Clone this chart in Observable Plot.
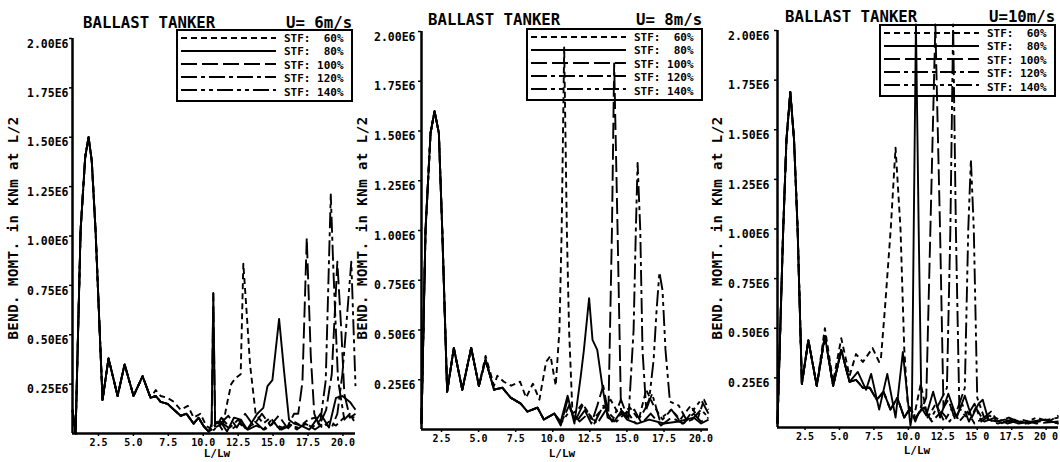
<!DOCTYPE html>
<html>
<head>
<meta charset="utf-8">
<script src="https://cdn.jsdelivr.net/npm/d3@7"></script>
<script src="https://cdn.jsdelivr.net/npm/@observablehq/plot@0.6"></script>
<style>
  body { margin: 0; background: #fff; }
  #root { position: relative; width: 1060px; height: 462px; overflow: hidden; background: #fff;
          font-family: "DejaVu Sans Mono", monospace; font-weight: bold; color: #000; }
  .panel { position: absolute; top: 0; }
  .panel svg { overflow: visible; }
  .ttl { position: absolute; font-size: 15.7px; line-height: 12px; white-space: pre; }
  .legend { position: absolute; width: 177px; height: 73px; border: 2px solid #000; box-sizing: border-box; }
  .leglab { position: absolute; left: 106px; font-size: 11px; line-height: 11px; white-space: pre; }
  .ytitle { position: absolute; font-size: 14px; letter-spacing: 0.5px; white-space: nowrap; transform: translate(-50%, -50%) rotate(-90deg); }
  .xtitle { position: absolute; font-size: 11px; white-space: nowrap; transform: translate(-50%, -50%); }
</style>
</head>
<body>
<div id="root"></div>
<script>
// ---------------- shared labels / ticks ----------------
const stfLabels = ["STF:  60%", "STF:  80%", "STF: 100%", "STF: 120%", "STF: 140%"];
const yTickValues = [0.25, 0.5, 0.75, 1.0, 1.25, 1.5, 1.75, 2.0];
const yTickLabels = ["0.25E6", "0.50E6", "0.75E6", "1.00E6", "1.25E6", "1.50E6", "1.75E6", "2.00E6"];
const xTickValues = [2.5, 5, 7.5, 10, 12.5, 15, 17.5, 20];
const xTickLabelsA = ["2.5", "5.0", "7.5", "10.0", "12.5", "15.0", "17.5", "20.0"];
const xTickLabelsC = ["2.5", "5.0", "7.5", "10.0", "12.5", "15 0", "17.5", "20 0"];
const speedLabels = ["U= 6m/s", "U= 8m/s", "U=10m/s"];
const titleText = "BALLAST TANKER";
const yTitle = "BEND. MOMT. in KNm at L/2";
const xTitle = "L/Lw";

// ---------------- Panel 1: U = 6 m/s  (x = L/Lw, y in 1E6 kNm) ----------------
const p1Base = [[0.64,0.12],[0.86,0.0],[1.22,1.03],[1.55,1.40],[1.79,1.50],[2.02,1.38],[2.29,1.03],[2.79,0.17],[3.22,0.38],[3.87,0.19],[4.37,0.35],[5.01,0.19],[5.66,0.29],[6.23,0.18]];
const p1Mid = [[6.6,0.19],[6.95,0.16],[7.45,0.15],[7.9,0.12],[8.38,0.09],[8.8,0.10],[9.31,0.05],[9.67,0.08],[10.0,0.04],[10.39,0.01]];
const p1Stf60 = [[6.6,0.22],[6.95,0.19],[7.45,0.18],[7.9,0.16],[8.38,0.12],[8.9,0.14],[9.31,0.08],[9.8,0.10],[10.2,0.04],[10.6,0.02],[11.0,0.06],[11.35,0.02],[11.7,0.15],[12.0,0.25],[12.3,0.28],[12.68,0.30],[12.87,0.86],[13.1,0.62],[13.35,0.35],[13.75,0.10],[14.3,0.05],[14.8,0.08],[15.3,0.04],[16.0,0.02],[16.5,0.06],[17.0,0.04],[17.5,0.07],[18.0,0.08],[18.5,0.03],[19.0,0.06],[19.5,0.04],[20.2,0.09],[20.9,0.08]];
const p1Stf80 = [[10.6,0.05],[10.72,0.71],[10.85,0.05],[11.25,0.06],[11.7,0.01],[12.2,0.08],[12.7,0.07],[13.15,0.02],[13.87,0.10],[14.3,0.13],[14.6,0.24],[14.95,0.27],[15.43,0.58],[15.78,0.32],[16.14,0.07],[16.5,0.05],[17.0,0.04],[17.6,0.02],[18.0,0.06],[18.4,0.10],[19.0,0.03],[19.5,0.18],[19.96,0.19],[20.5,0.16],[20.9,0.12]];
const p1Stf100 = [[10.6,0.03],[10.72,0.71],[10.85,0.03],[11.2,0.05],[11.8,0.09],[12.4,0.03],[13.0,0.10],[13.6,0.04],[14.2,0.10],[14.8,0.04],[15.4,0.09],[16.0,0.03],[16.5,0.10],[16.8,0.10],[17.1,0.26],[17.41,0.99],[17.7,0.39],[17.95,0.10],[18.3,0.04],[18.8,0.12],[19.2,0.30],[19.6,0.87],[19.9,0.50],[20.1,0.20],[20.5,0.08],[20.9,0.10]];
const p1Stf120 = [[10.8,0.02],[11.3,0.08],[11.9,0.03],[12.5,0.07],[13.1,0.02],[13.7,0.06],[14.3,0.02],[14.9,0.07],[15.5,0.02],[16.1,0.05],[16.7,0.02],[17.3,0.05],[17.8,0.03],[18.4,0.07],[18.77,0.27],[19.13,1.21],[19.3,0.86],[19.45,0.60],[19.65,0.27],[20.1,0.07],[20.5,0.10],[20.9,0.05]];
const p1Stf140 = [[10.8,0.03],[11.4,0.05],[12.0,0.02],[12.6,0.05],[13.2,0.02],[13.8,0.04],[14.4,0.02],[15.0,0.05],[15.6,0.02],[16.2,0.04],[16.8,0.03],[17.4,0.05],[18.0,0.02],[18.6,0.05],[19.2,0.03],[19.6,0.10],[19.96,0.30],[20.3,0.60],[20.6,0.87],[20.9,0.24]];

// ---------------- Panel 2: U = 8 m/s ----------------
const p2Base = [[1.15,0.03],[1.42,1.0],[1.76,1.49],[2.03,1.60],[2.32,1.49],[2.55,1.0],[2.88,0.19],[3.33,0.41],[3.9,0.20],[4.5,0.41],[5.02,0.22]];
const p2Mid = [[5.47,0.35],[6.04,0.20],[6.6,0.21],[7.16,0.16],[7.84,0.13],[8.29,0.09],[8.97,0.11],[9.4,0.05],[10.1,0.08]];
const p2Stf60 = [[5.47,0.37],[6.04,0.22],[6.26,0.27],[6.7,0.24],[7.2,0.22],[7.8,0.24],[8.2,0.16],[8.66,0.23],[9.1,0.15],[9.55,0.34],[9.85,0.37],[10.2,0.22],[10.45,0.50],[10.6,1.0],[10.77,1.92],[10.95,1.0],[11.1,0.50],[11.33,0.08],[11.7,0.10],[12.0,0.13],[12.7,0.05],[13.3,0.10],[13.9,0.15],[14.5,0.07],[15.2,0.11],[15.8,0.05],[16.3,0.20],[16.8,0.12],[17.4,0.05],[18.0,0.10],[18.6,0.05],[19.3,0.12],[19.8,0.06],[20.2,0.15],[20.5,0.10]];
const p2Stf80 = [[10.54,0.04],[11.0,0.17],[11.46,0.03],[11.89,0.27],[12.1,0.40],[12.45,0.66],[12.68,0.45],[13.0,0.40],[13.36,0.21],[13.7,0.06],[14.14,0.04],[14.6,0.09],[15.0,0.05],[15.7,0.03],[16.5,0.05],[17.5,0.03],[18.5,0.04],[19.5,0.06],[20.0,0.03],[20.5,0.05]];
const p2Stf100 = [[10.54,0.02],[11.0,0.15],[11.5,0.04],[12.0,0.12],[12.6,0.03],[13.0,0.12],[13.4,0.22],[13.75,0.08],[13.99,1.0],[14.14,1.84],[14.37,1.0],[14.6,0.10],[15.0,0.06],[15.5,0.10],[16.0,0.03],[16.6,0.08],[17.3,0.02],[18.0,0.06],[18.8,0.03],[19.5,0.08],[20.0,0.04],[20.5,0.06]];
const p2Stf120 = [[10.54,0.03],[11.1,0.12],[11.6,0.04],[12.2,0.10],[12.8,0.03],[13.4,0.12],[14.0,0.04],[14.6,0.15],[15.1,0.05],[15.45,0.50],[15.6,1.0],[15.72,1.34],[15.9,1.0],[16.05,0.40],[16.3,0.10],[16.7,0.18],[17.2,0.05],[18.0,0.10],[18.7,0.03],[19.4,0.05],[20.0,0.10],[20.5,0.06]];
const p2Stf140 = [[10.54,0.03],[11.2,0.10],[11.8,0.04],[12.4,0.08],[13.0,0.03],[13.6,0.10],[14.3,0.04],[15.0,0.09],[15.6,0.03],[16.2,0.10],[16.5,0.15],[16.8,0.35],[17.0,0.60],[17.19,0.79],[17.4,0.70],[17.6,0.40],[17.9,0.14],[18.5,0.12],[19.0,0.05],[19.5,0.10],[20.0,0.15],[20.5,0.08]];

// ---------------- Panel 3: U = 10 m/s ----------------
const p3Base = [[0.5,0.02],[0.91,0.99],[1.15,1.45],[1.43,1.69],[1.7,1.45],[1.96,1.0],[2.27,0.22],[2.74,0.44],[3.35,0.21]];
const p3Mid = [[3.94,0.46],[4.54,0.21],[5.13,0.39],[5.73,0.23]];
const p3Low = [[6.2,0.24],[6.7,0.20],[7.2,0.20],[7.7,0.14],[8.2,0.18],[8.7,0.09],[9.2,0.15],[9.7,0.05],[10.15,0.10]];
const p3Stf60 = [[3.94,0.50],[4.54,0.23],[5.13,0.45],[5.73,0.26],[6.2,0.37],[6.7,0.33],[7.4,0.40],[7.88,0.33],[8.0,0.34],[8.3,0.60],[8.72,1.0],[9.07,1.41],[9.43,1.0],[9.7,0.40],[9.95,0.12],[10.4,0.05],[10.9,0.22],[11.4,0.05],[12.0,0.12],[12.6,0.03],[13.2,0.10],[13.7,0.03],[14.3,0.08],[14.8,0.02],[15.5,0.05],[16.5,0.02],[17.5,0.04],[18.5,0.02],[19.5,0.03],[20.9,0.05]];
const p3Stf80 = [[6.33,0.28],[6.93,0.19],[7.3,0.27],[7.88,0.09],[8.47,0.27],[9.07,0.05],[9.6,0.38],[10.15,0.01],[10.25,0.05],[10.39,1.0],[10.55,2.03],[10.75,1.0],[10.95,0.10],[11.3,0.06],[11.8,0.18],[12.3,0.05],[12.9,0.17],[13.5,0.05],[14.1,0.16],[14.6,0.05],[15.1,0.12],[15.4,0.14],[15.8,0.04],[16.4,0.03],[17.0,0.04],[18.0,0.02],[19.0,0.03],[20.0,0.04],[20.9,0.02]];
const p3Stf100 = [[10.5,0.04],[11.0,0.10],[11.3,0.15],[11.6,1.0],[11.96,2.03],[12.3,1.0],[12.55,0.10],[12.9,0.14],[13.4,0.04],[13.9,0.12],[14.4,0.03],[14.9,0.10],[15.5,0.03],[16.3,0.05],[17.2,0.02],[18.2,0.04],[19.3,0.02],[20.9,0.03]];
const p3Stf120 = [[10.5,0.03],[11.0,0.12],[11.6,0.04],[12.3,0.13],[12.8,0.20],[13.05,1.0],[13.25,2.03],[13.45,1.0],[13.7,0.10],[14.2,0.05],[14.8,0.12],[15.3,0.03],[15.9,0.06],[16.7,0.02],[17.7,0.04],[18.7,0.02],[19.7,0.04],[20.9,0.02]];
const p3Stf140 = [[10.5,0.05],[11.1,0.10],[11.7,0.03],[12.4,0.08],[13.0,0.03],[13.6,0.10],[14.1,0.20],[14.35,1.0],[14.54,1.35],[14.75,1.0],[15.0,0.15],[15.5,0.05],[16.0,0.08],[16.5,0.03],[17.3,0.05],[18.3,0.02],[19.3,0.05],[20.2,0.03],[20.9,0.06]];

// ---------------- styles ----------------
const FONT = "'DejaVu Sans Mono', monospace";
const dashes = ["6,4", null, "16,5", "16,4,4,4", "16,4,4,4,4,4"];

const panels = [
  { left: 0,   width: 357, ml: 72, mr: 2, mt: 38, mb: 29, yPad: 4, xDomain: [0.64, 20.9], xLabels: xTickLabelsA,
    series: [p1Base.concat(p1Stf60), p1Base.concat(p1Mid, p1Stf80), p1Base.concat(p1Mid, p1Stf100), p1Base.concat(p1Mid, p1Stf120), p1Base.concat(p1Mid, p1Stf140)],
    title: [83, 16.5], speed: [286, 16.5], legend: [176, 29], yTitle: [13, 228], xTitle: [217, 453] },
  { left: 350, width: 360, ml: 71, mr: 2, mt: 31, mb: 33, yPad: 6, xDomain: [1.15, 20.5], xLabels: xTickLabelsA,
    series: [p2Base.concat(p2Stf60), p2Base.concat(p2Mid, p2Stf80), p2Base.concat(p2Mid, p2Stf100), p2Base.concat(p2Mid, p2Stf120), p2Base.concat(p2Mid, p2Stf140)],
    title: [428, 13.5], speed: [636, 13.5], legend: [526, 28], yTitle: [362, 228], xTitle: [562, 453] },
  { left: 705, width: 355, ml: 72, mr: 2, mt: 30, mb: 35, yPad: 8, xDomain: [0.5, 20.9], xLabels: xTickLabelsC,
    series: [p3Base.concat(p3Stf60), p3Base.concat(p3Mid, p3Stf80), p3Base.concat(p3Mid, p3Low, p3Stf100), p3Base.concat(p3Mid, p3Low, p3Stf120), p3Base.concat(p3Mid, p3Low, p3Stf140)],
    title: [785, 11], speed: [989, 11], legend: [879, 24], yTitle: [717, 228], xTitle: [917, 450] }
];

const root = d3.select("#root");

panels.forEach((p, pi) => {
  const lineMarks = p.series.map((data, i) =>
    Plot.line(data, { x: d => d[0], y: d => d[1], stroke: "black", strokeWidth: 1.9,
      strokeDasharray: dashes[i] || undefined, strokeLinejoin: "round", strokeLinecap: "butt" }));

  const svg = Plot.plot({
    width: p.width, height: 462,
    marginLeft: p.ml, marginRight: p.mr, marginTop: p.mt, marginBottom: p.mb,
    x: { domain: p.xDomain, label: null },
    y: { domain: [0, 2], label: null },
    style: { background: "transparent", overflow: "visible", color: "black" },
    marks: [
      Plot.axisY(yTickValues, { tickSize: 3, fill: "none", strokeWidth: 1.5, label: null }),
      Plot.axisY(yTickValues, { tickSize: 0, tickPadding: p.yPad, dy: 5.5, label: null,
        tickFormat: d => yTickLabels[yTickValues.indexOf(d)],
        fontSize: 11.5, fontWeight: "bold", fontFamily: FONT }),
      Plot.axisX(xTickValues, { tickSize: 3, tickPadding: 2, strokeWidth: 1.5, label: null,
        tickFormat: d => p.xLabels[xTickValues.indexOf(d)],
        fontSize: 10, fontWeight: "bold", fontFamily: FONT }),
      Plot.ruleX([p.xDomain[0]], { strokeWidth: 2.5 }),
      Plot.ruleY([0], { strokeWidth: 2.5 }),
      ...lineMarks
    ]
  });

  root.append("div").attr("class", "panel").style("left", p.left + "px").node().appendChild(svg);

  // title + speed
  root.append("div").attr("class", "ttl").style("left", p.title[0] + "px").style("top", p.title[1] + "px").text(titleText);
  root.append("div").attr("class", "ttl").style("left", p.speed[0] + "px").style("top", p.speed[1] + "px").text(speedLabels[pi]);

  // legend
  const box = root.append("div").attr("class", "legend").style("left", p.legend[0] + "px").style("top", p.legend[1] + "px");
  const lineRows = [7, 20, 33, 46, 59];
  const textRows = [2, 15, 28.5, 42, 55.5];
  stfLabels.forEach((lab, i) => {
    const s = box.append("svg").attr("width", 95).attr("height", 6)
      .style("position", "absolute").style("left", "3px").style("top", (lineRows[i] - 3) + "px");
    const ln = s.append("line").attr("x1", 0).attr("x2", 95).attr("y1", 3).attr("y2", 3)
      .attr("stroke", "#000").attr("stroke-width", 1.8);
    if (dashes[i]) ln.attr("stroke-dasharray", dashes[i]);
    box.append("div").attr("class", "leglab").style("top", textRows[i] + "px").text(lab);
  });

  // axis titles
  root.append("div").attr("class", "ytitle").style("left", p.yTitle[0] + "px").style("top", p.yTitle[1] + "px").text(yTitle);
  root.append("div").attr("class", "xtitle").style("left", p.xTitle[0] + "px").style("top", p.xTitle[1] + "px").text(xTitle);
});
</script>
</body>
</html>
